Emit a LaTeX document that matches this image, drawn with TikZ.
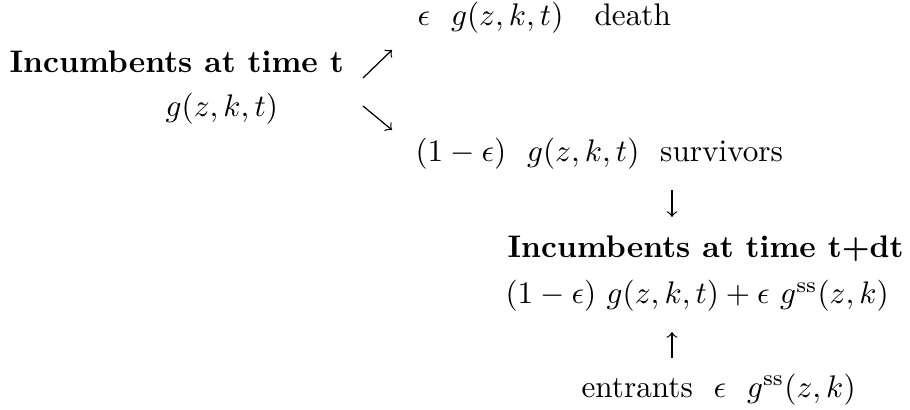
\documentclass[tikz,border=0pt]{standalone}
\usepackage{tikz}
\usetikzlibrary{arrows}

\begin{document}
\begin{tikzpicture}[x=0.3205pt, y=-0.3205pt]
                    \tikzstyle{txt} = [inner sep=0pt, anchor=base west]
                    \tikzstyle{line} = [draw, -to, line width=0.4pt]
                    \useasboundingbox (0,0) rectangle (910,410);

                    \node [txt] (death) at (417,26) {$\epsilon\ \ g(z,k,t)\ \ \ $death};
                    \node [txt] (inc) at (9,73) {\textbf{Incumbents at time t}};
                    \node [txt] (gt) at (165,117) {$g(z,k,t)$};
                    \node [txt] (surv) at (415,162) {$(1-\epsilon)\ \ g(z,k,t)\ \ $survivors};
                    \node [txt] (incdt) at (507,258) {\textbf{Incumbents at time t+dt}};
                    \node [txt] (total) at (505,304) {$(1-\epsilon)\ g(z,k,t)+\epsilon\ g^{\mathrm{ss}}(z,k)$};
                    \node [txt] (entr) at (581,397) {entrants\ \ $\epsilon\ \ g^{\mathrm{ss}}(z,k)$};

                    \coordinate (upfrom) at (363,78);
                    \coordinate (upto) at (392,50);
                    \coordinate (downfrom) at (363,106);
                    \coordinate (downto) at (392,130);
                    \coordinate (survfrom) at (672,190);
                    \coordinate (survto) at (672,217);
                    \coordinate (entrfrom) at (672,358);
                    \coordinate (entrto) at (672,332);

                    \path [line] (upfrom) -- (upto);
                    \path [line] (downfrom) -- (downto);
                    \path [line] (survfrom) -- (survto);
                    \path [line] (entrfrom) -- (entrto);
\end{tikzpicture}
\end{document}
